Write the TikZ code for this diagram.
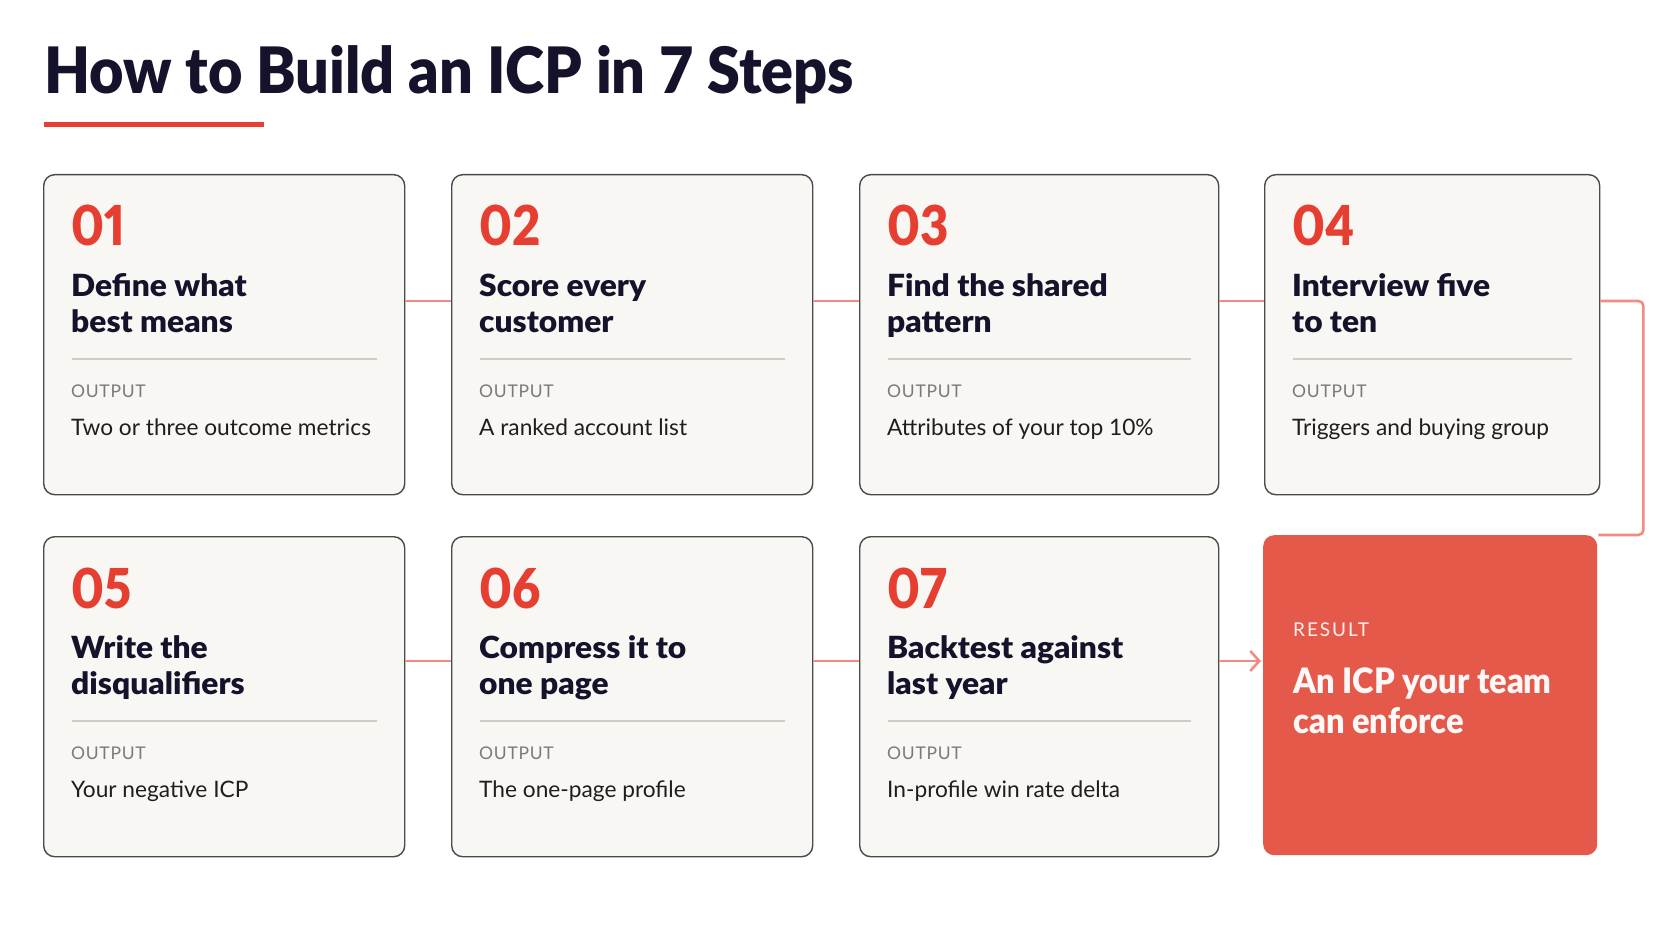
\documentclass[tikz,border=0pt]{standalone}
\usepackage{fontspec}
\setmainfont{Lato}
\newfontfamily\heavyfont[FakeStretch=1.04]{Lato Black}
\newfontfamily\titlefont[FakeStretch=0.928]{Lato Black}
\newfontfamily\numfont[FakeStretch=0.89,Numbers=Proportional]{Lato Black}
\newfontfamily\resfont[FakeStretch=0.933]{Lato Black}
\newfontfamily\spacedfont[LetterSpace=4]{Lato}
\newfontfamily\resspaced[LetterSpace=10]{Lato}
\usetikzlibrary{arrows.meta}
\definecolor{ink}{HTML}{15132B}
\definecolor{numred}{HTML}{E63E30}
\definecolor{resfill}{HTML}{E5594A}
\definecolor{cardfill}{HTML}{F9F7F4}
\definecolor{cardline}{HTML}{4A4A4A}
\definecolor{connred}{HTML}{F28B82}
\definecolor{sepgray}{HTML}{CFCCC8}
\definecolor{labgray}{HTML}{7A7A7A}
\definecolor{bodyink}{HTML}{1E1E1E}
\tikzset{
  card/.style={draw=cardline, line width=1.4pt, fill=cardfill, rounded corners=11pt, anchor=north west, inner sep=0pt},
  rescard/.style={fill=resfill, rounded corners=11pt, anchor=north west, inner sep=0pt},
  txt/.style={anchor=base west, inner sep=0pt},
  numtxt/.style={txt, text=numred, font=\numfont\fontsize{55}{60}\selectfont},
  steptitle/.style={txt, text=ink, font=\heavyfont\fontsize{30.5}{36}\selectfont},
  outlab/.style={txt, text=labgray, font=\spacedfont\fontsize{17.5}{20}\selectfont},
  bodytxt/.style={txt, text=bodyink, font=\fontsize{22.7}{28}\selectfont},
  seprule/.style={draw=sepgray, line width=1.3pt},
  conn/.style={draw=connred, line width=2.6pt},
}
\newcommand{\stepcard}[8]{%
  \node[card, minimum width=#4pt, minimum height=320pt] (c#1) at (#2,#3) {};
  \node[numtxt] (c#1n) at ([shift={(28,72)}]c#1.north west) {#5};
  \node[steptitle] (c#1a) at ([shift={(28,122)}]c#1.north west) {#6};
  \node[steptitle] (c#1b) at ([shift={(28,158.5)}]c#1.north west) {#7};
  \draw[seprule] ([shift={(29,185)}]c#1.north west) coordinate (c#1s1) -- ([shift={(-28,185)}]c#1.north east) coordinate (c#1s2);
  \node[outlab] (c#1o) at ([shift={(28,223)}]c#1.north west) {OUTPUT};
  \node[bodytxt] (c#1p) at ([shift={(28,261)}]c#1.north west) {#8};
}
\begin{document}
\begin{tikzpicture}[x=1pt,y=-1pt]
\useasboundingbox (0,0) rectangle (1672,941);
\fill[white] (0,0) rectangle (1672,941);
% title
\node[txt, text=ink, font=\titlefont\fontsize{64}{70}\selectfont] (title) at (44,94) {How to Build an ICP in 7 Steps};
\fill[numred] (44,122.5) rectangle (264,127.5);
% cards
\stepcard{1}{43}{174}{361}{01}{Define what}{best means}{Two or three outcome metrics}
\stepcard{2}{451}{174}{361}{02}{Score every}{customer}{A ranked account list}
\stepcard{3}{859}{174}{359}{03}{Find the shared}{pattern}{Attributes of your top 10\%}
\stepcard{4}{1264}{174}{335}{04}{Interview five}{to ten}{Triggers and buying group}
\stepcard{5}{43}{536}{361}{05}{Write the}{disqualifiers}{Your negative ICP}
\stepcard{6}{451}{536}{361}{06}{Compress it to}{one page}{The one-page profile}
\stepcard{7}{859}{536}{359}{07}{Backtest against}{last year}{In-profile win rate delta}
% result
\node[rescard, minimum width=334pt, minimum height=320pt] (res) at (1263,535) {};
\node[txt, text=white!92!resfill, font=\resspaced\fontsize{19}{22}\selectfont] (resl) at ([shift={(30,101)}]res.north west) {RESULT};
\node[txt, text=white!96!resfill, font=\resfont\fontsize{35}{40}\selectfont] (resa) at ([shift={(30,158)}]res.north west) {An ICP your team};
\node[txt, text=white!96!resfill, font=\resfont\fontsize{35}{40}\selectfont] (resb) at ([shift={(30,198)}]res.north west) {can enforce};
% connectors
\draw[conn] ([shift={(0,127)}]c1.north east) -- ([shift={(0,127)}]c2.north west);
\draw[conn] ([shift={(0,127)}]c2.north east) -- ([shift={(0,127)}]c3.north west);
\draw[conn] ([shift={(0,127)}]c3.north east) -- ([shift={(0,127)}]c4.north west);
\coordinate (bendA) at ([shift={(43,127)}]c4.north east);
\draw[conn, rounded corners=5pt] ([shift={(0,127)}]c4.north east) -- (bendA) -- (bendA |- res.north) -- ([xshift=1pt]res.north east);
\draw[conn] ([shift={(0,125)}]c5.north east) -- ([shift={(0,125)}]c6.north west);
\draw[conn] ([shift={(0,125)}]c6.north east) -- ([shift={(0,125)}]c7.north west);
\draw[conn, -{Straight Barb[length=9pt,width=20pt,line width=2.6pt]}] ([shift={(0,125)}]c7.north east) -- ([shift={(-2,126)}]res.north west);
\end{tikzpicture}
\end{document}
